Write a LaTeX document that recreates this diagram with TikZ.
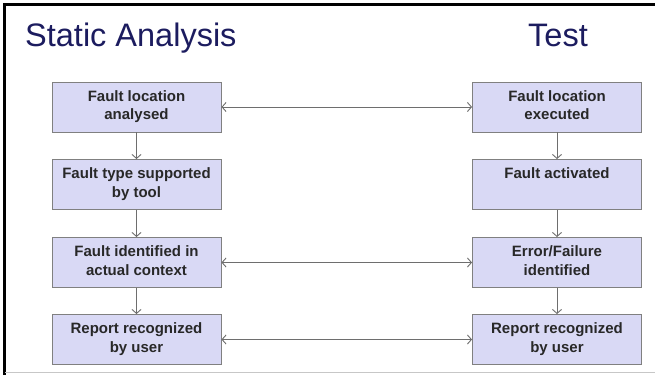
\documentclass[tikz,border=0pt]{standalone}
\usepackage{fontspec}
\setmainfont{Liberation Sans}
\usetikzlibrary{arrows.meta}
\definecolor{boxfill}{RGB}{217,217,245}
\definecolor{boxdraw}{RGB}{128,128,128}
\definecolor{arr}{RGB}{110,110,110}
\definecolor{titlec}{RGB}{28,28,95}
\definecolor{txt}{RGB}{40,40,40}
\tikzset{
  stepbox/.style={draw=boxdraw, line width=0.9pt, fill=boxfill, minimum width=169pt, minimum height=50pt,
    inner sep=0pt, align=center, text=txt, font=\bfseries\fontsize{15pt}{18.5pt}\selectfont},
  link/.style={draw=arr, line width=0.9pt, -{Straight Barb[length=4pt,width=9pt]}},
  dlink/.style={draw=arr, line width=0.9pt, {Straight Barb[length=4pt,width=9pt]}-{Straight Barb[length=4pt,width=9pt]}},
  ttl/.style={text=titlec, font=\fontsize{32.5pt}{36pt}\selectfont, inner sep=0pt}
}
\begin{document}
\begin{tikzpicture}[x=1pt,y=-1pt]
\useasboundingbox (0,0) rectangle (655,375);
\fill[white] (0,0) rectangle (655,375);
\draw[black, line width=2.5pt] (4.5,375) -- (4.5,4.5) -- (655,4.5);
\draw[black!22, line width=1.5pt] (5,372.5) -- (655,372.5);
\node[ttl, anchor=base west] (t1) at (25,46) {Static Analysis};
\node[ttl, anchor=base west] (t2) at (528,46) {Test};
\node[stepbox] (a1) at (136.5,107) {\strut Fault location\\analysed\strut};
\node[stepbox] (a2) at (136.5,184.5) {\strut Fault type supported\\by tool\strut};
\node[stepbox] (a3) at (136.5,262.5) {\strut Fault identified in\\actual context\strut};
\node[stepbox] (a4) at (136.5,339.5) {\strut Report recognized\\by user\strut};
\node[stepbox] (b1) at (557,107) {\strut Fault location\\executed\strut};
\node[stepbox] (b2) at (557,184.5) {\strut Fault activated\\\strut};
\node[stepbox] (b3) at (557,262.5) {\strut Error/Failure\\identified\strut};
\node[stepbox] (b4) at (557,339.5) {\strut Report recognized\\by user\strut};
\draw[link] (a1) -- (a2);
\draw[link] (a2) -- (a3);
\draw[link] (a3) -- (a4);
\draw[link] (b1) -- (b2);
\draw[link] (b2) -- (b3);
\draw[link] (b3) -- (b4);
\draw[dlink] (a1) -- (b1);
\draw[dlink] (a3) -- (b3);
\draw[dlink] (a4) -- (b4);
\end{tikzpicture}
\end{document}
